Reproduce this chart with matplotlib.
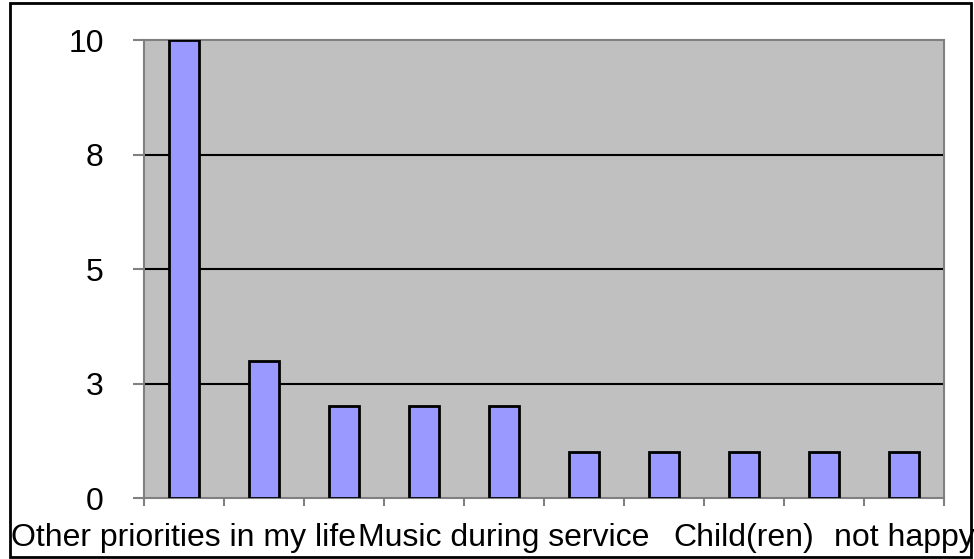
import math
import matplotlib
matplotlib.use('Agg')
import matplotlib.pyplot as plt
from matplotlib.patches import Rectangle
from matplotlib.ticker import FuncFormatter

plt.rcParams['font.family'] = ['Liberation Sans', 'DejaVu Sans']

# data
counts = [10, 3, 2, 2, 2, 1, 1, 1, 1, 1]
label_text = ['Other priorities in my life', 'Music during service',
              'Child(ren)', 'not happy']
label_pos = [0, 4, 7, 9]   # categories whose labels are visible
y_ticks = [0, 2.5, 5, 7.5, 10]

fig = plt.figure(figsize=(9.74, 5.59), dpi=100)
ax = fig.add_axes([0.1478, 0.1091, 0.8214, 0.8193])
ax.set_facecolor('#c0c0c0')

x = list(range(len(counts)))
ax.bar(x, counts, width=0.375, color='#9999ff', edgecolor='black',
       linewidth=2, zorder=3)

ax.set_xlim(-0.5, len(counts) - 0.5)
ax.set_ylim(0, 10)

# gridlines
for t in y_ticks[1:-1]:
    ax.axhline(t, color='black', linewidth=1.5, zorder=1)

for s in ax.spines.values():
    s.set_color('#808080')
    s.set_linewidth(1.5)

ax.set_yticks(y_ticks)
ax.yaxis.set_major_formatter(FuncFormatter(lambda v, p: str(int(math.floor(v + 0.5)))))
ax.tick_params(axis='y', length=8, width=1.5, color='#808080', pad=21,
               labelsize=23)

# ticks at category boundaries, labels on minor ticks
ax.set_xticks([i - 0.5 for i in range(len(counts) + 1)])
ax.set_xticklabels([])
ax.tick_params(axis='x', which='major', length=6, width=1.5, color='#808080')
ax.set_xticks(label_pos, minor=True)
ax.set_xticklabels(label_text, minor=True)
ax.tick_params(axis='x', which='minor', length=0, pad=18, labelsize=23)

# outer frame
fig.patches.append(Rectangle((10 / 974, 2 / 559), 961 / 974, 554 / 559,
                             transform=fig.transFigure, fill=False,
                             edgecolor='black', linewidth=2))

fig.savefig('out.png', dpi=100)
